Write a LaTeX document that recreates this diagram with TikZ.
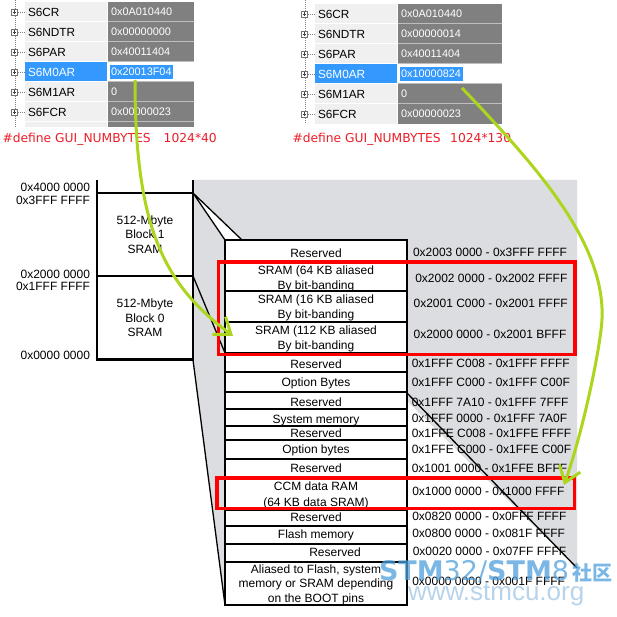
\documentclass[tikz,border=0pt]{standalone}
\usepackage{fontspec}
\setmainfont{Liberation Sans}
\newfontfamily\dejavu{DejaVu Sans}
\newfontfamily\cjk{Noto Sans CJK SC}
\usetikzlibrary{arrows.meta}
\definecolor{memgray}{RGB}{220,221,224}
\definecolor{namebg}{RGB}{240,240,240}
\definecolor{valbg}{RGB}{128,128,128}
\definecolor{valline}{RGB}{190,190,190}
\definecolor{selblue}{RGB}{51,153,255}
\definecolor{defred}{RGB}{235,30,40}
\definecolor{arrowgreen}{RGB}{172,214,30}
\definecolor{wmblue}{RGB}{80,160,220}
\definecolor{wmlight}{RGB}{160,198,230}
\tikzset{
  tight/.style={inner sep=0pt, outer sep=0pt},
  regname/.style={tight, anchor=west, font=\fontsize{11.8}{13}\selectfont},
  regval/.style={tight, anchor=west, text=white, font=\fontsize{10.9}{13}\selectfont},
  selval/.style={anchor=west, inner xsep=1.5pt, inner ysep=3.5pt, outer sep=0pt, fill=selblue, text=white, font=\fontsize{10.9}{13}\selectfont},
  deftext/.style={tight, anchor=base west, text=defred, font=\dejavu\fontsize{12.3}{14}\selectfont},
  addr/.style={tight, anchor=base west, font=\fontsize{12}{14}\selectfont},
  leftaddr/.style={tight, anchor=base east, font=\fontsize{12}{14}\selectfont},
  rowbox/.style={tight, draw, line width=1.3pt, fill=white, minimum width=182pt},
  rowtext/.style={tight, anchor=base, font=\fontsize{12}{15}\selectfont},
  rowtextm/.style={tight, align=center, font=\fontsize{12}{15}\selectfont},
  blocktext/.style={tight, align=center, font=\fontsize{12}{14.3}\selectfont},
  treedot/.style={gray, line width=0.8pt, dash pattern=on 1pt off 1pt},
  treebox/.style={draw=gray!90!black, fill=white, line width=0.8pt},
  thinline/.style={black, line width=1.3pt},
  greenarrow/.style={draw=arrowgreen, line width=3pt, -{Straight Barb[length=15pt,width=22pt]}},
  redbox/.style={draw=red, line width=3.4pt},
}
\begin{document}
\begin{tikzpicture}[x=1pt,y=-1pt]
\useasboundingbox (0,0) rectangle (617,617);
\fill[white] (0,0) rectangle (617,617);

% ---------------- left register panel ----------------
\fill[namebg] (25,2) rectangle (107,127);
\fill[valbg] (108,2) rectangle (194,127);
\foreach \yy in {22,42,62,82,102,122}{
  \draw[white, line width=1pt] (25,\yy) -- (107,\yy);
  \draw[valline, line width=1pt] (108,\yy) -- (194,\yy);
}
\fill[selblue] (25,62.5) rectangle (107,81.5);
\fill[white] (108,62.5) rectangle (194,81.5);
\draw[treedot] (15,0) -- (15,127);
\foreach \i in {1,...,6}{
  \draw[treedot] (18,{-8+20*\i}) -- (26,{-8+20*\i});
  \draw[treebox] (11.5,{-11+20*\i}) rectangle (17.5,{-5+20*\i});
  \draw[black!75, line width=0.8pt] (12.8,{-8+20*\i}) -- (16.2,{-8+20*\i}) (14.5,{-9.7+20*\i}) -- (14.5,{-6.3+20*\i});
}
\foreach \nm/\vl/\i in {S6CR/0x0A010440/1, S6NDTR/0x00000000/2, S6PAR/0x40011404/3, S6M1AR/0/5, S6FCR/0x00000023/6}{
  \node[regname] (L\nm) at (28,{-8+20*\i}) {\nm};
  \node[regval] (L\nm-v) at (111,{-8+20*\i}) {\vl};
}
\node[regname, text=white] (LS6M0AR) at (28,72) {S6M0AR};
\node[selval] (LS6M0AR-v) at (109.5,72) {0x20013F04};

% ---------------- right register panel ----------------
\fill[namebg] (315,4) rectangle (397,124);
\fill[valbg] (398,4) rectangle (502,124);
\foreach \yy in {24,44,64,84,104}{
  \draw[white, line width=1pt] (315,\yy) -- (397,\yy);
  \draw[valline, line width=1pt] (398,\yy) -- (502,\yy);
}
\fill[selblue] (315,64.5) rectangle (397,83.5);
\fill[white] (398,64.5) rectangle (502,83.5);
\draw[treedot] (305,0) -- (305,124);
\foreach \i in {1,...,6}{
  \draw[treedot] (308,{-6+20*\i}) -- (316,{-6+20*\i});
  \draw[treebox] (301.5,{-9+20*\i}) rectangle (307.5,{-3+20*\i});
  \draw[black!75, line width=0.8pt] (302.8,{-6+20*\i}) -- (306.2,{-6+20*\i}) (304.5,{-7.7+20*\i}) -- (304.5,{-4.3+20*\i});
}
\foreach \nm/\vl/\i in {S6CR/0x0A010440/1, S6NDTR/0x00000014/2, S6PAR/0x40011404/3, S6M1AR/0/5, S6FCR/0x00000023/6}{
  \node[regname] (R\nm) at (318,{-6+20*\i}) {\nm};
  \node[regval] (R\nm-v) at (401,{-6+20*\i}) {\vl};
}
\node[regname, text=white] (RS6M0AR) at (318,74) {S6M0AR};
\node[selval] (RS6M0AR-v) at (399.5,74) {0x10000824};

% ---------------- define lines ----------------
\node[deftext] (defL) at (2.5,143) {\#define GUI\_NUMBYTES\hspace{13pt}1024*40};
\node[deftext] (defR) at (292.5,143) {\#define GUI\_NUMBYTES\hspace{9.5pt}1024*130};

% ---------------- memory map background ----------------
\fill[memgray] (193,180) -- (577,180) -- (577,568) -- (407,401) -- (407,605) -- (225,605) -- (193,360) -- cycle;
\fill[white] (193,193) -- (225,240) -- (242,240) -- cycle;

% left column
\draw[line width=1.5pt] (97,193) -- (193,193) (97,276) -- (193,276);
\draw[line width=2.6pt] (97,180) -- (97,360) (193,180) -- (193,360);
\draw[line width=3pt] (95.7,359.5) -- (194.3,359.5);
\node[blocktext] (blk1) at (145,234.5) {512-Mbyte\\Block 1\\SRAM};
\node[blocktext] (blk0) at (145,318) {512-Mbyte\\Block 0\\SRAM};
\node[leftaddr] (la1) at (90,191.7) {0x4000 0000};
\node[leftaddr] (la2) at (90,204.3) {0x3FFF FFFF};
\node[leftaddr] (la3) at (90,278.7) {0x2000 0000};
\node[leftaddr] (la4) at (90,290.7) {0x1FFF FFFF};
\node[leftaddr] (la5) at (90,359.3) {0x0000 0000};

% expansion table rows
\node[rowbox, minimum height=23pt] (r1) at (316,251.5) {};
\node[rowbox, minimum height=28pt] (r2) at (316,277) {};
\node[rowbox, minimum height=31pt] (r3) at (316,306.5) {};
\node[rowbox, minimum height=31pt] (r4) at (316,337.5) {};
\node[rowbox, minimum height=19pt] (r5) at (316,362.5) {};
\node[rowbox, minimum height=20pt] (r6) at (316,382) {};
\node[rowbox, minimum height=17pt] (r7) at (316,400.5) {};
\node[rowbox, minimum height=17pt] (r8) at (316,417.5) {};
\node[rowbox, minimum height=14pt] (r9) at (316,433) {};
\node[rowbox, minimum height=19pt] (r10) at (316,449.5) {};
\node[rowbox, minimum height=18pt] (r11) at (316,468) {};
\node[rowbox, minimum height=33pt] (r12) at (316,493.5) {};
\node[rowbox, minimum height=16pt] (r13) at (316,518) {};
\node[rowbox, minimum height=18pt] (r14) at (316,535) {};
\node[rowbox, minimum height=18pt] (r15) at (316,553) {};
\node[rowbox, minimum height=43pt] (r16) at (316,583.5) {};
\draw[line width=2.6pt] (r1.north west) rectangle (r16.south east);

% mapping lines
\draw[thinline] (193,193) -- (r1.north west) (193,193) -- (242,240);
\draw[thinline] (193,276) -- (r4.south west);
\draw[thinline] (193,360) -- (r16.south west);
\draw[thinline] (r7.east) ++(0,-7.5) -- (577,568);

% row texts
\node[rowtext] (t1) at (316,257.3) {Reserved};
\node[rowtextm] (t2) at (316,278.5) {SRAM (64 KB aliased\\By bit-banding};
\node[rowtextm] (t3) at (316,307.5) {SRAM (16 KB aliased\\By bit-banding};
\node[rowtextm] (t4) at (316,338.5) {SRAM (112 KB aliased\\By bit-banding};
\node[rowtext] (t5) at (316,368.3) {Reserved};
\node[rowtext] (t6) at (316,386.3) {Option Bytes};
\node[rowtext] (t7) at (316,406.3) {Reserved};
\node[rowtext] (t8) at (316,423.5) {System memory};
\node[rowtext] (t9) at (316,437.3) {Reserved};
\node[rowtext] (t10) at (316,453.3) {Option bytes};
\node[rowtext] (t11) at (316,472.3) {Reserved};
\node[rowtextm, font=\fontsize{12}{16}\selectfont] (t12) at (316,495) {CCM data RAM\\(64 KB data SRAM)};
\node[rowtext] (t13) at (316,521) {Reserved};
\node[rowtext] (t14) at (316,538.6) {Flash memory};
\node[rowtext] (t15) at (335,556.6) {Reserved};
\node[rowtextm, font=\fontsize{12}{14.5}\selectfont] (t16) at (316,584.5) {Aliased to Flash, system\\memory or SRAM depending\\on the BOOT pins};

% address labels
\node[addr] (a1) at (413,256) {0x2003 0000 - 0x3FFF FFFF};
\node[addr] (a2) at (415.3,282.7) {0x2002 0000 - 0x2002 FFFF};
\node[addr] (a3) at (413.6,307) {0x2001 C000 - 0x2001 FFFF};
\node[addr] (a4) at (413.6,338.7) {0x2000 0000 - 0x2001 BFFF};
\node[addr] (a5) at (411.8,367.3) {0x1FFF C008 - 0x1FFF FFFF};
\node[addr] (a6) at (411.8,386.7) {0x1FFF C000 - 0x1FFF C00F};
\node[addr] (a7) at (411.8,406.7) {0x1FFF 7A10 - 0x1FFF 7FFF};
\node[addr] (a8) at (411.8,422.7) {0x1FFF 0000 - 0x1FFF 7A0F};
\node[addr] (a9) at (411.8,437) {0x1FFE C008 - 0x1FFE FFFF};
\node[addr] (a10) at (411.8,453.3) {0x1FFE C000 - 0x1FFE C00F};
\node[addr] (a11) at (411.8,472) {0x1001 0000 - 0x1FFE BFFF};
\node[addr] (a12) at (412.3,495) {0x1000 0000 - 0x1000 FFFF};
\node[addr] (a13) at (412.3,520.3) {0x0820 0000 - 0x0FFF FFFF};
\node[addr] (a14) at (412.3,537.7) {0x0800 0000 - 0x081F FFFF};
\node[addr] (a15) at (412.8,555.7) {0x0020 0000 - 0x07FF FFFF};
\node[addr] (a16) at (412.3,585.7) {0x0000 0000 - 0x001F FFFF};

% red highlight boxes
\draw[redbox] (218.7,262) rectangle (575,354.3);
\draw[redbox] (217,478) rectangle (574.7,508.3);

% green arrows
\coordinate (g1s) at (135,80);
\coordinate (g1e) at (233,336);
\coordinate (g2s) at (462,88);
\coordinate (g2e) at (564,485);
\draw[greenarrow] (g1s) .. controls (135,230) and (165,285) .. (g1e);
\draw[greenarrow] (g2s) .. controls (540,170) and (612,250) .. (601,330) .. controls (596,370) and (580,440) .. (g2e);

% watermark
\node[tight, anchor=base west, text=wmblue, opacity=0.75] (wm1) at (379,580) {\dejavu\fontsize{27}{30}\selectfont\bfseries STM\mdseries 32/\bfseries STM\mdseries 8\hspace{3pt}{\cjk\bfseries\fontsize{20}{22}\selectfont 社区}};
\node[tight, anchor=base west, text=wmlight, opacity=0.75] (wm2) at (408,600) {\fontsize{26}{28}\selectfont www.stmcu.org};
\end{tikzpicture}
\end{document}
